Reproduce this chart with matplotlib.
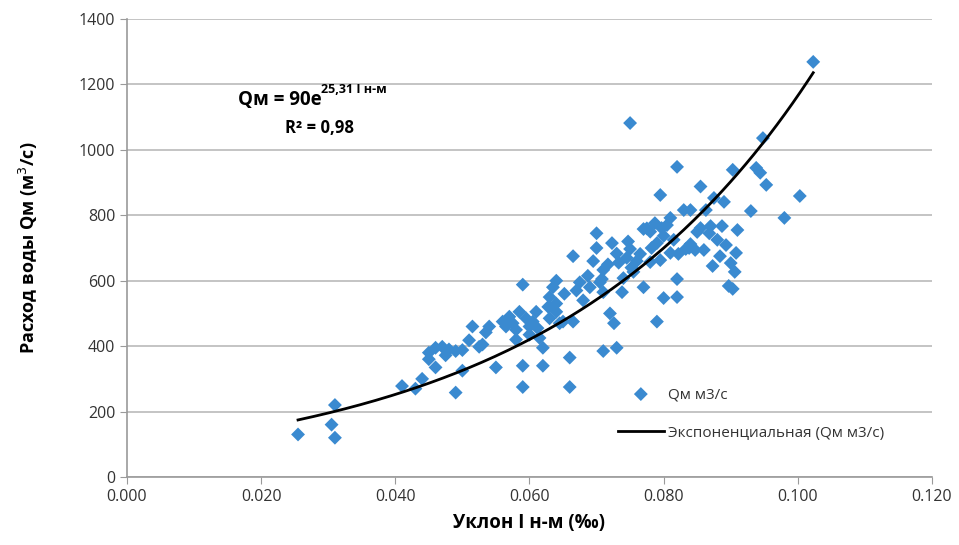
import matplotlib.pyplot as plt
import numpy as np

plt.rcParams['font.family'] = ['Open Sans', 'DejaVu Sans']

# slope I (‰) and discharge Qm (m3/s)
slope = [0.0255, 0.0305, 0.031, 0.031,
         0.041, 0.043, 0.044, 0.045, 0.045, 0.046, 0.046, 0.047, 0.048, 0.049,
         0.049, 0.050, 0.050, 0.051, 0.0515, 0.0525, 0.053, 0.054, 0.055, 0.056,
         0.0565, 0.057, 0.058, 0.058, 0.059, 0.0585, 0.059, 0.059, 0.0595, 0.060,
         0.060, 0.0605, 0.061, 0.0615, 0.062, 0.062, 0.063, 0.063, 0.0635, 0.064,
         0.064, 0.064, 0.0645, 0.065, 0.066, 0.066, 0.0665, 0.0665, 0.067, 0.068,
         0.0687, 0.069, 0.0695, 0.070, 0.070, 0.0705, 0.071, 0.071, 0.071, 0.0717,
         0.072, 0.0723, 0.0726, 0.073, 0.073, 0.0738, 0.074, 0.0745, 0.0747, 0.075,
         0.075, 0.0755, 0.076, 0.0765, 0.077, 0.077, 0.0775, 0.078, 0.078, 0.0787,
         0.079, 0.079, 0.0795, 0.0795, 0.0797, 0.080, 0.080, 0.081, 0.081, 0.0815,
         0.082, 0.082, 0.082, 0.0822, 0.083, 0.0833, 0.084, 0.084, 0.0847, 0.085,
         0.0855, 0.0855, 0.086, 0.0863, 0.087, 0.0873, 0.0875, 0.088, 0.0884,
         0.0887, 0.089, 0.0893, 0.0897, 0.090, 0.0903, 0.0903, 0.0906, 0.0908,
         0.091, 0.093, 0.0938, 0.0944, 0.0948, 0.0953, 0.098, 0.1003, 0.1023,
         0.0475, 0.0535, 0.0575, 0.0612, 0.0628, 0.0652, 0.0675, 0.0708, 0.0733,
         0.0752, 0.0782, 0.0805, 0.0838, 0.0868]
discharge = [130, 160, 220, 120,
             278, 270, 300, 360, 380, 335, 395, 398, 390, 258,
             385, 325, 388, 418, 460, 398, 405, 460, 335, 475,
             460, 490, 450, 420, 588, 505, 340, 275, 485, 460,
             435, 475, 505, 425, 340, 395, 485, 550, 580, 600,
             530, 505, 470, 475, 275, 365, 675, 475, 570, 540,
             615, 580, 660, 700, 745, 595, 633, 385, 565, 650,
             500, 715, 470, 395, 683, 565, 608, 670, 720, 1082,
             697, 627, 660, 682, 758, 580, 760, 657, 750, 776,
             475, 715, 862, 663, 761, 547, 737, 792, 685, 725,
             550, 605, 948, 682, 816, 697, 712, 816, 694, 749,
             888, 761, 694, 816, 767, 645, 853, 725, 675,
             767, 841, 709, 584, 654, 939, 575, 627, 685,
             755, 813, 945, 930, 1036, 893, 792, 859, 1269,
             372, 442, 470, 455, 520, 560, 595, 605, 655,
             640, 700, 770, 700, 745]

# exponential trend as drawn in the reference
fit_a = 91
fit_b = 25.5
fit_x = np.linspace(0.0255, 0.1023, 200)
fit_y = fit_a * np.exp(fit_b * fit_x)

fig = plt.figure(figsize=(9.59, 5.45), dpi=100)
ax = fig.add_axes([0.1324, 0.1248, 0.8394, 0.8403])

ax.scatter(slope, discharge, marker='D', s=50, color='#3a8ad0',
           edgecolors='none', zorder=3, label='Qм м3/с')
ax.plot(fit_x, fit_y, color='black', lw=2, zorder=4,
        label='Экспоненциальная (Qм м3/с)')

ax.set_xlim(0, 0.12)
ax.set_ylim(0, 1400)
ax.set_xticks(np.arange(0, 0.121, 0.02))
ax.set_xticklabels(['%.3f' % v for v in np.arange(0, 0.121, 0.02)])
ax.set_yticks(range(0, 1401, 200))
ax.yaxis.grid(True, color='#bfbfbf', lw=1.3)
ax.set_axisbelow(True)
for s in ['top', 'right']:
    ax.spines[s].set_visible(False)
for s in ['left', 'bottom']:
    ax.spines[s].set_color('#9a9a9a')
    ax.spines[s].set_linewidth(1.2)
ax.tick_params(axis='both', colors='#9a9a9a', length=5, labelsize=11.5,
               labelcolor='#333333')

ax.set_xlabel('Уклон I н-м (‰)', fontsize=13.5, fontweight='bold', labelpad=6)
ax.set_ylabel('Расход воды Qм (м$^3$/с)', fontsize=13, fontweight='bold', labelpad=28)

t1 = ax.text(0.0165, 1152, 'Qм = 90e', fontsize=13.5, fontweight='bold',
             va='center', ha='left')
ax.annotate('25,31 I н-м', xy=(1, 0.7), xycoords=t1, fontsize=9,
            fontweight='bold', va='bottom', ha='left')
ax.text(0.0235, 1068, 'R² = 0,98', fontsize=12, fontweight='bold',
        va='center', ha='left')

ax.legend(loc='upper left', bbox_to_anchor=(0.63, 0.315),
          bbox_transform=fig.transFigure, frameon=False, fontsize=11,
          handlelength=3, labelspacing=1.55, handletextpad=0.3,
          labelcolor='#333333')

fig.savefig('out.png', dpi=100)
